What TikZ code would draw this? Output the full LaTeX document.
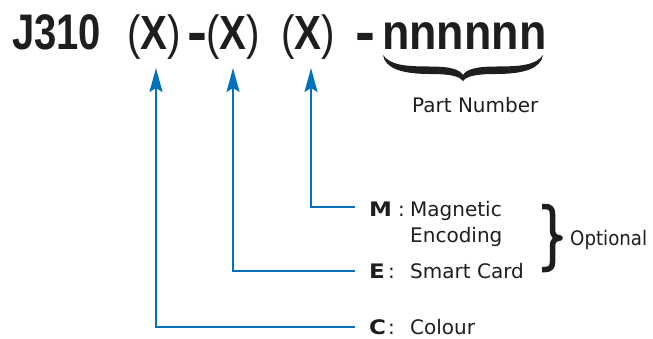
\documentclass[tikz,border=0pt]{standalone}
\usepackage{fontspec}
\setmainfont{DejaVu Sans}
\newfontfamily\tsans{Liberation Sans}
\usetikzlibrary{arrows.meta}
\definecolor{lineblue}{RGB}{0,114,188}
\definecolor{ink}{RGB}{30,30,30}
\newcommand{\bx}{{\bfseries X}}
\tikzset{
  titlesans/.style={inner sep=0pt, anchor=base west, text=ink, font=\tsans\bfseries\fontsize{50}{50}\selectfont, xscale=0.8},
  titledash/.style={inner sep=0pt, anchor=base west, text=ink, font=\tsans\bfseries\fontsize{60}{60}\selectfont},
  titlepar/.style={inner sep=0pt, anchor=base west, text=ink, font=\tsans\fontsize{48}{48}\selectfont, xscale=0.84},
  lbl/.style={inner sep=0pt, anchor=base west, text=ink, font=\fontsize{20}{20}\selectfont},
  key/.style={inner sep=0pt, anchor=base west, text=ink, font=\bfseries\fontsize{20}{20}\selectfont, xscale=1.15},
  conn/.style={draw=lineblue, line width=2pt, -{Stealth[length=24pt,width=13pt,inset=4pt]}},
  bracefill/.style={fill=ink, draw=none},
  bracestroke/.style={draw=ink, line width=5.5pt, line join=round},
}
\begin{document}
\begin{tikzpicture}[x=1pt,y=-1pt]
\useasboundingbox (0,0) rectangle (653,338);
% title
\node[titlesans] (j310) at (12,49) {J310};
\node[titlepar] (xa) at (127,49) {(\bx)};
\node[titledash] (h1) at (187,52) {-};
\node[titlepar] (xb) at (206,49) {(\bx)};
\node[titlepar] (xc) at (281,49) {(\bx)};
\node[titledash] (h2) at (355,52) {-};
\node[titlesans, xscale=1.12] (nn) at (382,49) {nnnnnn};
% part number brace
\path[bracefill] (383,55) .. controls (390,65) and (405,66.5) .. (430,66.5)
  .. controls (452,66.5) and (460,70) .. (463,75)
  .. controls (466,70) and (474,66.5) .. (496,66.5)
  .. controls (521,66.5) and (536,65) .. (543,55)
  .. controls (541,68) and (525,74) .. (496,74)
  .. controls (476,74) and (467,76) .. (463,81)
  .. controls (459,76) and (450,74) .. (430,74)
  .. controls (401,74) and (385,68) .. (383,55) -- cycle;
\node[lbl] (pn) at (412,112) {Part Number};
% labels
\node[key] (mk) at (369,216) {M};
\node[lbl] (mc) at (398,216) {:};
\node[lbl] (m1) at (410,216) {Magnetic};
\node[lbl] (m2) at (410,242) {Encoding};
\node[key] (ek) at (369,278) {E};
\node[lbl] (ec) at (388,278) {:};
\node[lbl] (e1) at (410,278) {Smart Card};
\node[key] (ck) at (369,334) {C};
\node[lbl] (cc) at (388,334) {:};
\node[lbl] (c1) at (410,334) {Colour};
% optional brace
\draw[bracestroke] (542,206.5) -- (545,206.5) .. controls (550.5,206.5) and (552.5,209) .. (552.5,214)
  -- (552.5,230) .. controls (552.5,235) and (555,237.5) .. (560,238)
  .. controls (555,238.5) and (552.5,241) .. (552.5,246)
  -- (552.5,262) .. controls (552.5,267) and (550.5,269.5) .. (545,269.5) -- (542,269.5);
\node[lbl, xscale=0.91] (opt) at (570,245) {Optional};
% connectors
\coordinate (tipa) at (156,68);
\coordinate (tipb) at (233,68);
\coordinate (tipc) at (311,68);
\coordinate (sm) at (355,207);
\coordinate (se) at (355,271);
\coordinate (sc) at (355,327);
\draw[conn] (sm) -| (tipc);
\draw[conn] (se) -| (tipb);
\draw[conn] (sc) -| (tipa);
\end{tikzpicture}
\end{document}
